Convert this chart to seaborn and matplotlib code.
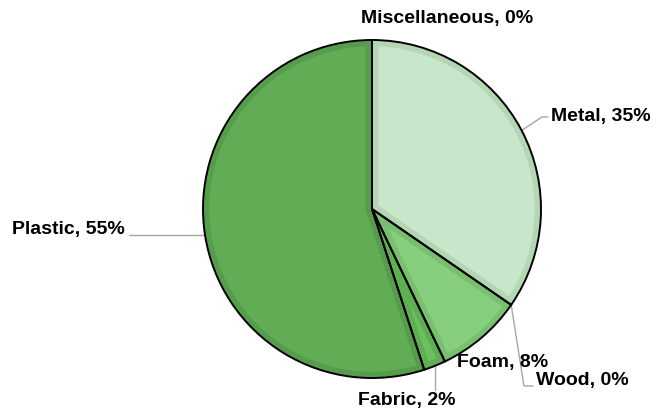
import numpy as np
import matplotlib
matplotlib.use("Agg")
import matplotlib.pyplot as plt
import seaborn as sns
from matplotlib.patches import Wedge

# slices, clockwise from the top
materials = ['Miscellaneous', 'Metal', 'Wood', 'Foam', 'Fabric', 'Plastic']
shares = [0.0, 34.6, 0.0, 8.3, 2.1, 55.0]
pct_labels = [0, 35, 0, 8, 2, 55]
fills = ['#c8e6c9', '#c8e6c9', '#87cf7e', '#87cf7e', '#6cbf5f', '#62ac56']
bands = ['#b4d6b4', '#b4d6b4', '#78c06e', '#78c06e', '#5eae52', '#579c4c']

sns.set_theme(style='white')
plt.rcParams['font.family'] = ['Liberation Sans', 'DejaVu Sans']

fig = plt.figure(figsize=(6.56, 4.13), dpi=100)
ax = fig.add_axes([0, 0, 1, 1])

cx, cy, r = 372, 204, 169
wedges, _ = ax.pie(shares, colors=fills, startangle=90, counterclock=False,
                   center=(cx, cy), radius=r, frame=True,
                   wedgeprops=dict(linewidth=0))
ax.set_xlim(0, 656)
ax.set_ylim(0, 413)
ax.set_aspect('equal')
ax.axis('off')

# darker inner rim on each slice, then black outline
for w, band in zip(wedges, bands):
    if w.theta2 - w.theta1 < 1e-6:
        continue
    rim = Wedge((cx, cy), r, w.theta1, w.theta2, facecolor='none',
                edgecolor=band, linewidth=9, zorder=2)
    rim.set_clip_path(w)
    ax.add_patch(rim)
    ax.add_patch(Wedge((cx, cy), r, w.theta1, w.theta2, facecolor='none',
                       edgecolor='black', linewidth=1.4, zorder=3))


def edge_point(w, frac=0.5):
    a = np.deg2rad(w.theta1 + (w.theta2 - w.theta1) * frac)
    return cx + r * np.cos(a), cy + r * np.sin(a)


font = dict(fontsize=14, fontweight='bold', color='black')
lc = dict(color='#a6a6a6', linewidth=1)
H = 413

# Miscellaneous (top, no leader)
ax.text(447, H - 18, f'{materials[0]}, {pct_labels[0]}%', ha='center', va='center', **font)

# Metal
x0, y0 = edge_point(wedges[1])
ax.plot([x0, 542, 548], [y0, H - 117, H - 117], **lc)
ax.text(551, H - 117, f'{materials[1]}, {pct_labels[1]}%', ha='left', va='center', **font)

# Wood
x0, y0 = edge_point(wedges[2])
ax.plot([x0, 524, 533], [y0, H - 386, H - 386], **lc)
ax.text(536, H - 380, f'{materials[2]}, {pct_labels[2]}%', ha='left', va='center', **font)

# Foam (no leader)
ax.text(503, H - 362, f'{materials[3]}, {pct_labels[3]}%', ha='center', va='center', **font)

# Fabric
x0, y0 = edge_point(wedges[4])
ax.plot([x0, x0], [y0, H - 390], **lc)
ax.text(407, H - 401, f'{materials[4]}, {pct_labels[4]}%', ha='center', va='center', **font)

# Plastic
x0, y0 = edge_point(wedges[5])
ax.plot([x0, 129], [y0, y0], **lc)
ax.text(125, y0 + 6, f'{materials[5]}, {pct_labels[5]}%', ha='right', va='center', **font)

fig.savefig('out.png', dpi=100)
